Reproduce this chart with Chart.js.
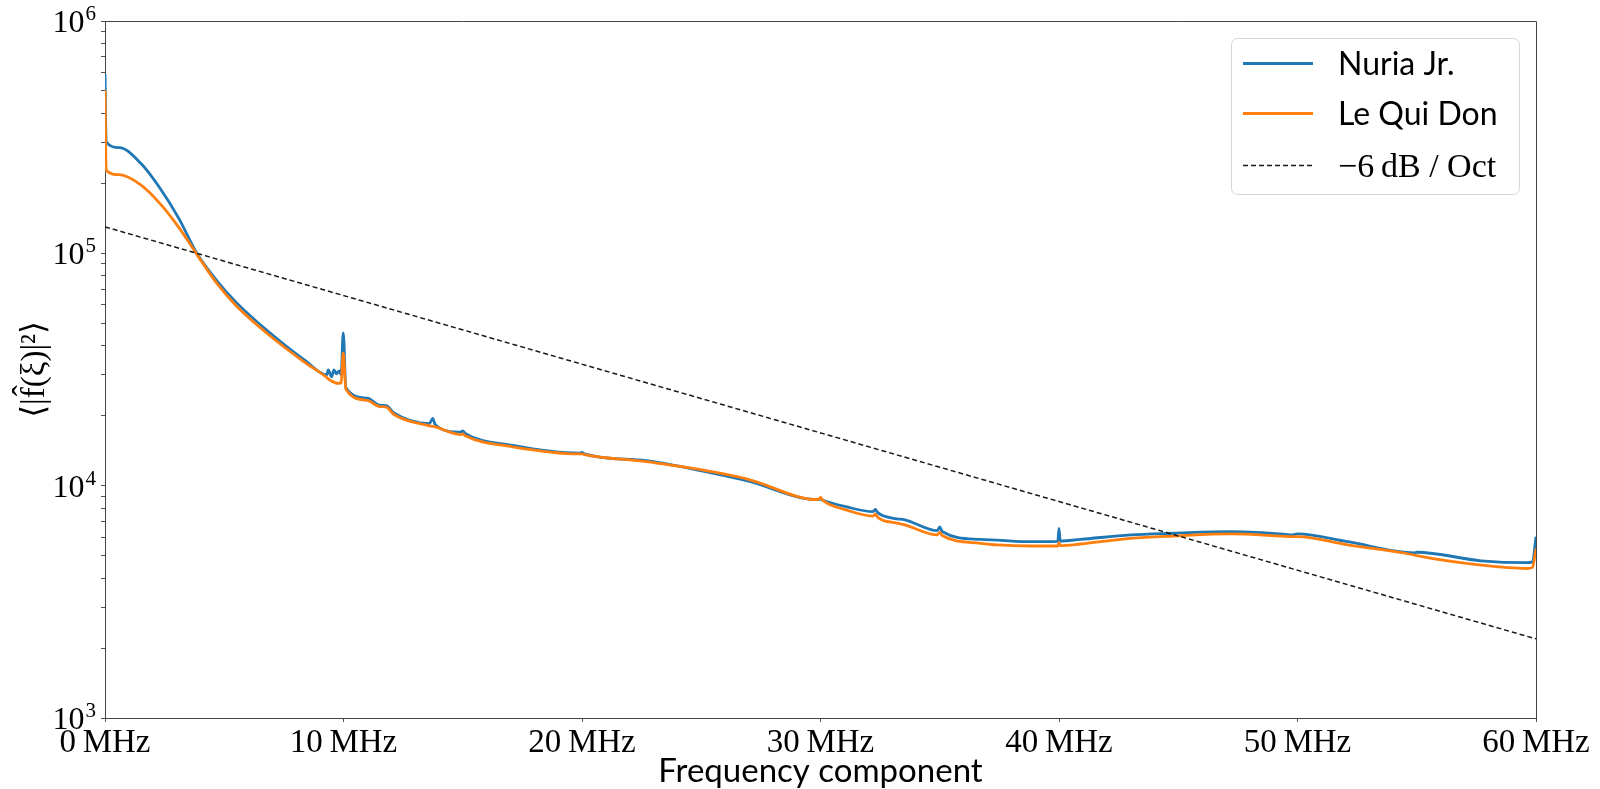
<!DOCTYPE html>
<html>
<head>
<meta charset="utf-8">
<title>Power spectrum</title>
<script src="https://cdn.jsdelivr.net/npm/chart.js@4.4.1/dist/chart.umd.min.js"></script>
<style>
  html, body { margin: 0; padding: 0; background: #ffffff; }
  #wrap { width: 1600px; height: 789px; position: relative; }
</style>
</head>
<body>
<div id="wrap"><canvas id="spectrum" width="1600" height="789"></canvas></div>
<script>
// Frequency grid (MHz) shared by both receivers
const freqMHz = [
  0, 0.05, 0.6, 1.5, 2.3, 3.1, 3.85, 4.7, 5.5, 6.8,
  8.4, 9.3, 9.36, 9.5, 9.6, 9.71, 9.82, 9.9, 9.99, 10.1,
  11.0, 11.5, 11.8, 12.1, 13.6, 13.74, 13.85, 14.9, 15.0, 15.1,
  17.1, 19.9, 20.0, 20.1, 22.7, 24.1, 24.8, 26.9, 29.9, 30.0,
  30.1, 31.1, 32.2, 32.3, 32.4, 33.2, 33.5, 34.9, 35.0, 35.1,
  36.7, 37.4, 38.8, 39.95, 40.0, 40.05, 40.9, 43.0, 44.8, 47.2,
  49.3, 49.8, 50.0, 52.1, 54.9, 55.0, 57.7, 59.6, 59.85, 60
];

// Mean spectral power <|f^(xi)|^2>, Nuria Jr.
const nuriaPower = [
  5.9e5, 3.02e5, 2.85e5, 2.44e5, 1.91e5, 1.41e5, 1.0e5, 7.6e4, 6.15e4, 4.65e4,
  3.45e4, 3.0e4, 3.15e4, 2.94e4, 3.15e4, 3.03e4, 3.12e4, 3.0e4, 4.55e4, 2.64e4,
  2.38e4, 2.22e4, 2.21e4, 2.06e4, 1.85e4, 1.95e4, 1.83e4, 1.7e4, 1.72e4, 1.68e4,
  1.49e4, 1.38e4, 1.39e4, 1.37e4, 1.28e4, 1.21e4, 1.17e4, 1.05e4, 8.7e3, 8.75e3,
  8.65e3, 8.1e3, 7.73e3, 7.9e3, 7.65e3, 7.2e3, 7.15e3, 6.4e3, 6.65e3, 6.35e3,
  5.87e3, 5.83e3, 5.74e3, 5.76e3, 6.55e3, 5.78e3, 5.87e3, 6.14e3, 6.24e3, 6.34e3,
  6.2e3, 6.14e3, 6.2e3, 5.74e3, 5.14e3, 5.17e3, 4.75e3, 4.66e3, 4.7e3, 6.03e3
];

// Mean spectral power <|f^(xi)|^2>, Le Qui Don
const leQuiDonPower = [
  5.05e5, 2.28e5, 2.18e5, 1.97e5, 1.64e5, 1.29e5, 0.99e5, 7.4e4, 5.95e4, 4.52e4,
  3.38e4, 2.92e4, 2.88e4, 2.82e4, 2.79e4, 2.76e4, 2.76e4, 2.77e4, 3.73e4, 2.6e4,
  2.33e4, 2.19e4, 2.18e4, 2.03e4, 1.81e4, 1.80e4, 1.79e4, 1.66e4, 1.67e4, 1.64e4,
  1.47e4, 1.37e4, 1.37e4, 1.36e4, 1.27e4, 1.21e4, 1.18e4, 1.07e4, 8.7e3, 8.9e3,
  8.65e3, 7.85e3, 7.4e3, 7.55e3, 7.3e3, 6.9e3, 6.8e3, 6.14e3, 6.3e3, 6.1e3,
  5.65e3, 5.56e3, 5.5e3, 5.5e3, 5.7e3, 5.52e3, 5.61e3, 5.93e3, 6.07e3, 6.2e3,
  6.07e3, 6.03e3, 6.03e3, 5.56e3, 5.03e3, 5.0e3, 4.55e3, 4.4e3, 4.45e3, 5.37e3
];

// Reference slope line end points
const slopeFreqMHz = [0, 60];
const slopePower = [1.3e5, 2.19e3];

// Axis ticks
const xTickValues = [0, 10, 20, 30, 40, 50, 60];
const yDecades = [3, 4, 5, 6];

const seriesNames = ['Nuria Jr.', 'Le Qui Don', '\u22126\u2009dB / Oct'];

const toPoints = (xs, ys) => xs.map((x, i) => ({ x: x, y: ys[i] }));

// all log ticks: 1..9 x 10^n, major at each decade
const yTickValues = [];
for (let d = yDecades[0]; d < yDecades[yDecades.length - 1]; d++) {
  for (let m = 1; m < 10; m++) yTickValues.push(m * Math.pow(10, d));
}
yTickValues.push(Math.pow(10, yDecades[yDecades.length - 1]));

const SERIF = '"Liberation Serif", "DejaVu Serif", serif';
const SANS = 'Lato, "Open Sans", sans-serif';

// outer frame: top and right spines
const frame = {
  id: 'frame',
  afterDatasetsDraw(chart) {
    const { ctx, chartArea: a } = chart;
    ctx.save();
    ctx.strokeStyle = '#444';
    ctx.lineWidth = 1;
    ctx.beginPath();
    ctx.moveTo(Math.round(a.left) + 0.5, Math.round(a.top) + 0.5);
    ctx.lineTo(Math.round(a.right) + 0.5, Math.round(a.top) + 0.5);
    ctx.lineTo(Math.round(a.right) + 0.5, Math.round(a.bottom) + 0.5);
    ctx.stroke();
    ctx.restore();
  }
};

// decade labels 10^n with raised exponent
const decadeLabels = {
  id: 'decadeLabels',
  afterDraw(chart) {
    const { ctx } = chart;
    const y = chart.scales.y;
    const right = 96;
    ctx.save();
    ctx.fillStyle = '#000';
    ctx.textBaseline = 'alphabetic';
    for (const d of yDecades) {
      const py = y.getPixelForValue(Math.pow(10, d));
      const exp = String(d);
      ctx.font = '21px ' + SERIF;
      const ew = ctx.measureText(exp).width;
      ctx.textAlign = 'left';
      ctx.fillText(exp, right - ew, py - 1);
      ctx.font = '32px ' + SERIF;
      ctx.textAlign = 'right';
      ctx.fillText('10', right - ew - 1, py + 11);
    }
    ctx.restore();
  }
};

// legend box in the upper right of the plot
const legendFonts = ['32px ' + SANS, '32px ' + SANS, '34px ' + SERIF];
const legendBox = {
  id: 'legendBox',
  afterDraw(chart) {
    const { ctx } = chart;
    const bx = 1231.5, by = 38.5, bw = 288, bh = 156, r = 6;
    ctx.save();
    ctx.beginPath();
    ctx.moveTo(bx + r, by);
    ctx.arcTo(bx + bw, by, bx + bw, by + bh, r);
    ctx.arcTo(bx + bw, by + bh, bx, by + bh, r);
    ctx.arcTo(bx, by + bh, bx, by, r);
    ctx.arcTo(bx, by, bx + bw, by, r);
    ctx.closePath();
    ctx.fillStyle = 'rgba(255,255,255,0.8)';
    ctx.fill();
    ctx.strokeStyle = '#d6d6d6';
    ctx.lineWidth = 1;
    ctx.stroke();

    const rows = [63, 113, 165];
    chart.data.datasets.forEach((ds, i) => {
      const ry = rows[i];
      ctx.save();
      ctx.strokeStyle = ds.borderColor;
      ctx.lineWidth = ds.borderWidth;
      ctx.setLineDash(ds.borderDash || []);
      ctx.beginPath();
      ctx.moveTo(1243, ry + 0.5);
      ctx.lineTo(1313, ry + 0.5);
      ctx.stroke();
      ctx.restore();
      ctx.fillStyle = '#000';
      ctx.font = legendFonts[i];
      ctx.textAlign = 'left';
      ctx.textBaseline = 'alphabetic';
      ctx.fillText(ds.label, 1338, ry + 12);
    });
    ctx.restore();
  }
};

const ctx = document.getElementById('spectrum').getContext('2d');
new Chart(ctx, {
  type: 'line',
  data: {
    datasets: [
      {
        label: seriesNames[0],
        data: toPoints(freqMHz, nuriaPower),
        borderColor: '#1f77b4',
        borderWidth: 2.8,
        pointRadius: 0,
        cubicInterpolationMode: 'monotone',
        order: 3
      },
      {
        label: seriesNames[1],
        data: toPoints(freqMHz, leQuiDonPower),
        borderColor: '#ff7f0e',
        borderWidth: 2.8,
        pointRadius: 0,
        cubicInterpolationMode: 'monotone',
        order: 2
      },
      {
        label: seriesNames[2],
        data: toPoints(slopeFreqMHz, slopePower),
        borderColor: '#1a1a1a',
        borderWidth: 1.5,
        borderDash: [5, 3],
        pointRadius: 0,
        order: 1
      }
    ]
  },
  options: {
    responsive: false,
    animation: false,
    devicePixelRatio: 1,
    layout: { padding: { top: 21, right: 64, left: 0, bottom: 0 } },
    plugins: {
      legend: { display: false },
      tooltip: { enabled: false }
    },
    scales: {
      x: {
        type: 'linear',
        min: 0,
        max: 60,
        afterBuildTicks: (s) => { s.ticks = xTickValues.map(v => ({ value: v })); },
        afterFit: (s) => { s.height = 71; },
        ticks: {
          callback: (v) => v + '\u2009MHz',
          font: { family: SERIF, size: 33 },
          color: '#000',
          maxRotation: 0,
          autoSkip: false,
          padding: 2
        },
        grid: { drawOnChartArea: false, drawTicks: true, tickLength: 4, tickColor: '#555' },
        border: { display: true, color: '#444', width: 1 },
        title: {
          display: true,
          text: 'Frequency component',
          font: { family: SANS, size: 33, lineHeight: 1 },
          color: '#000',
          padding: { top: 0, bottom: 1 }
        }
      },
      y: {
        type: 'logarithmic',
        min: 1e3,
        max: 1e6,
        afterBuildTicks: (s) => {
          s.ticks = yTickValues.map(v => ({ value: v, major: Math.log10(v) % 1 === 0 }));
        },
        afterFit: (s) => { s.width = 105; },
        ticks: {
          callback: () => '',
          autoSkip: false
        },
        grid: {
          drawOnChartArea: false,
          drawTicks: true,
          tickLength: 4,
          tickColor: '#555'
        },
        border: { display: true, color: '#444', width: 1 },
        title: {
          display: true,
          text: '\u27E8|f\u0302(\u03BE)|\u00B2\u27E9',
          font: { family: SERIF, size: 33, lineHeight: 1 },
          color: '#000',
          padding: { top: 19, bottom: 0 }
        }
      }
    }
  },
  plugins: [frame, decadeLabels, legendBox]
});
</script>
</body>
</html>
